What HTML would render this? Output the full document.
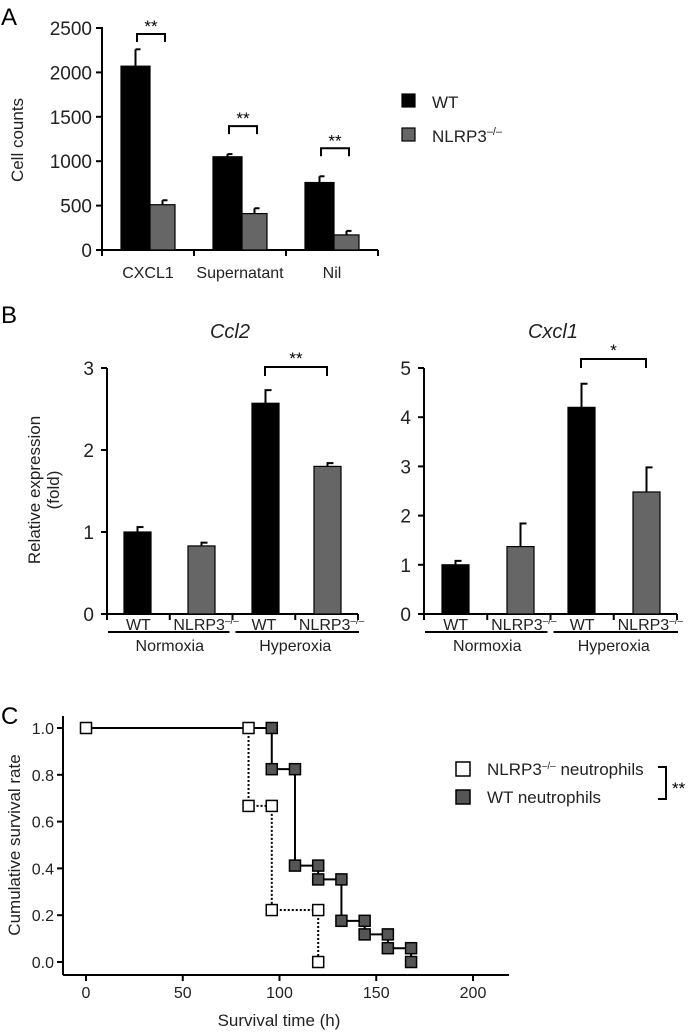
<!DOCTYPE html>
<html><head><meta charset="utf-8"><style>
body{margin:0;background:#fff;}
svg{display:block;font-family:"Liberation Sans",Arial,sans-serif;}
</style></head><body>
<svg id="s" width="693" height="1032" viewBox="0 0 693 1032">
<g id="A"></g>
<g id="B1"></g>
<g id="B2"></g>
<g id="C"></g>
</svg>
<script>
// Panel A data
const aCats=["CXCL1","Supernatant","Nil"];
const aWT=[2070,1050,760];
const aWTerr=[190,30,70];
const aKO=[510,410,170];
const aKOerr=[50,60,45];
const aTicks=[0,500,1000,1500,2000,2500];
// Panel B data
const bGroups=["Normoxia","Hyperoxia"];
const ccl2Vals=[1.0,0.83,2.57,1.80];
const ccl2Err=[0.06,0.04,0.16,0.04];
const ccl2Ticks=[0,1,2,3];
const cxcl1Vals=[1.0,1.37,4.2,2.48];
const cxcl1Err=[0.08,0.47,0.48,0.5];
const cxcl1Ticks=[0,1,2,3,4,5];
// Panel C data
const koT=[0,84,84,96,96,120,120];
const koS=[1,1,0.667,0.667,0.222,0.222,0];
const wtT=[96,96,108,108,120,120,132,132,144,144,156,156,168,168];
const wtS=[1,0.824,0.824,0.412,0.412,0.353,0.353,0.176,0.176,0.118,0.118,0.059,0.059,0];
const cXTicks=[0,50,100,150,200];
const cYTicks=[0,0.2,0.4,0.6,0.8,1.0];

const NS="http://www.w3.org/2000/svg";
function mk(p,tag,at,txt){const e=document.createElementNS(NS,tag);for(const k in at)e.setAttribute(k,at[k]);if(txt!==undefined)e.textContent=txt;p.appendChild(e);return e;}
const S={stroke:"#000","stroke-width":2};

// ---------- Panel A ----------
(function(){
 const g=document.getElementById('A');
 const x0=102,x1=378,y0=250,yT=28,max=2500;
 const ys=v=>y0-(v/max)*(y0-yT);
 let t=mk(g,'text',{x:1,y:25,"font-size":24},'A');
 
 mk(g,'line',Object.assign({x1:x0,y1:yT-1,x2:x0,y2:y0},S));
 mk(g,'line',Object.assign({x1:x0-5,y1:y0,x2:x1,y2:y0},S));
 aTicks.forEach(v=>{mk(g,'line',Object.assign({x1:x0-6,y1:ys(v),x2:x0,y2:ys(v)},S));
  const l=mk(g,'text',{x:x0-10,y:ys(v)+7,"font-size":19,"text-anchor":"end",fill:"#222"},v);
  });
 const step=(x1-x0)/aCats.length;
 for(let i=0;i<=aCats.length;i++)mk(g,'line',Object.assign({x1:x0+i*step,y1:y0,x2:x0+i*step,y2:y0+6},S));
 const yl=mk(g,'text',{x:0,y:0,"font-size":17,"text-anchor":"middle",transform:"translate(23,140) rotate(-90)",fill:"#222"},'Cell counts');
 
 aCats.forEach((c,i)=>{
  const bx=x0+i*step+19;
  [[aWT,aWTerr,"#000",0,29],[aKO,aKOerr,"#666",29,25]].forEach(([vals,err,col,off,w])=>{
   const v=vals[i],e=err[i];
   mk(g,'line',Object.assign({x1:bx+off+w/2,y1:ys(v),x2:bx+off+w/2,y2:ys(v+e)},S));
   mk(g,'line',Object.assign({x1:bx+off+w/2,y1:ys(v+e),x2:bx+off+w/2+5,y2:ys(v+e)},S));
   const r=mk(g,'rect',{x:bx+off,y:ys(v),width:w,height:y0-ys(v),fill:col,stroke:"#000","stroke-width":1.2});
   
  });
  const lb=mk(g,'text',{x:bx+27,y:278,"font-size":16,"text-anchor":"middle",fill:"#222"},c);
  
  const top=Math.max(aWT[i]+aWTerr[i],aKO[i]+aKOerr[i]);
  const by=i===0?yT+6:ys(top)-28;
  mk(g,'path',{d:`M${bx+16} ${by+8}V${by}H${bx+44}V${by+8}`,fill:"none",stroke:"#000","stroke-width":2});
  const st=mk(g,'text',{x:bx+30,y:by-2,"font-size":17,"text-anchor":"middle"},'**');
  
 });
 const lg=[["WT","#000",101],["NLRP3\u2013/\u2013","#666",135]];
 lg.forEach(([n,c,y],i)=>{const gg=mk(g,'g',{});
  mk(gg,'rect',{x:402,y:y-7,width:13,height:13,fill:c,stroke:"#000","stroke-width":1.2});
  const tx=mk(gg,'text',{x:432,y:y+7,"font-size":17,fill:"#222"},i?'NLRP3':'WT');
  if(i)mk(tx,'tspan',{"font-size":11,dy:-7},'\u2013/\u2013');});
})();

// ---------- Panel B ----------
function panelB(id,title,vals,err,ticks,max,x0,x1,bars,brk,star,titleX){
 const g=document.getElementById(id);
 const y0=614,yT=368;
 const ys=v=>y0-(v/max)*(y0-yT);
 mk(g,'line',Object.assign({x1:x0,y1:yT,x2:x0,y2:y0},S));
 mk(g,'line',Object.assign({x1:x0-5,y1:y0,x2:x1,y2:y0},S));
 ticks.forEach(v=>{mk(g,'line',Object.assign({x1:x0-6,y1:ys(v),x2:x0,y2:ys(v)},S));
  const l=mk(g,'text',{x:x0-13,y:ys(v)+7,"font-size":19,"text-anchor":"end",fill:"#222"},v);
  });
 const step=(x1-x0)/4;
 for(let i=0;i<=4;i++)mk(g,'line',Object.assign({x1:x0+i*step,y1:y0,x2:x0+i*step,y2:y0+6},S));
 const tt=mk(g,'text',{x:titleX,y:338,"font-size":20,"font-style":"italic","text-anchor":"middle",fill:"#222"},title);
 
 vals.forEach((v,i)=>{
  const bx=x0+bars[i],w=27,e=err[i],cx=bx+w/2;
  mk(g,'line',Object.assign({x1:cx,y1:ys(v),x2:cx,y2:ys(v+e)},S));
  mk(g,'line',Object.assign({x1:cx-1,y1:ys(v+e),x2:cx+6,y2:ys(v+e)},S));
  const r=mk(g,'rect',{x:bx,y:ys(v),width:w,height:y0-ys(v),fill:i%2?"#666":"#000",stroke:"#000","stroke-width":1.2});
  
  const lx=x0+step*i+step/2;
  const lb=mk(g,'text',{x:lx+(i%2?5:0),y:630,"font-size":16,"text-anchor":"middle",fill:"#222"},i%2?'NLRP3':'WT');
  if(i%2)mk(lb,'tspan',{"font-size":10,dy:-6},'\u2013/\u2013');
  
 });
 bGroups.forEach((n,k)=>{
  mk(g,'line',{x1:x0+k*2*step+(k?3:1),y1:632,x2:x0+(k+1)*2*step-(k?-1:3),y2:632,stroke:"#000","stroke-width":2});
  const gl=mk(g,'text',{x:x0+k*2*step+step,y:651,"font-size":16,"text-anchor":"middle",fill:"#222"},n);
  
 });
 const a=x0+bars[2]+13,b=x0+bars[3]+13,by=brk;
 mk(g,'path',{d:`M${a} ${by+9}V${by}H${b}V${by+9}`,fill:"none",stroke:"#000","stroke-width":2});
 const st=mk(g,'text',{x:(a+b)/2,y:by-3,"font-size":17,"text-anchor":"middle"},star);
 
}
panelB('B1','Ccl2',ccl2Vals,ccl2Err,ccl2Ticks,3,107,358,[17,81,145,207],367,'**',230);
panelB('B2','Cxcl1',cxcl1Vals,cxcl1Err,cxcl1Ticks,5,424,677,[18,83,144,209],359,'*',553);
(function(){const g=document.getElementById('B1');
 let t=mk(g,'text',{x:1,y:323,"font-size":24},'B');
 const yl=mk(g,'text',{"font-size":17,"text-anchor":"middle",fill:"#222",transform:"translate(40,490) rotate(-90)"},'Relative expression');
 
 mk(g,'text',{"font-size":17,"text-anchor":"middle",fill:"#222",transform:"translate(59,490) rotate(-90)"},'(fold)');
})();

// ---------- Panel C ----------
(function(){
 const g=document.getElementById('C');
 const x0=63,x1=509,y0=975,xs=t=>86+t*(473-86)/200,ys=s=>962-s*(962-728);
 let t=mk(g,'text',{x:1,y:724,"font-size":24},'C');
 mk(g,'line',Object.assign({x1:x0,y1:716,x2:x0,y2:y0},S));
 mk(g,'line',Object.assign({x1:x0,y1:y0,x2:x1,y2:y0},S));
 cYTicks.forEach(v=>{mk(g,'line',Object.assign({x1:x0-6,y1:ys(v),x2:x0,y2:ys(v)},S));
  const l=mk(g,'text',{x:x0-9,y:ys(v)+6,"font-size":16,"text-anchor":"end",fill:"#222"},v.toFixed(1));
  });
 cXTicks.forEach(v=>{mk(g,'line',Object.assign({x1:xs(v),y1:y0,x2:xs(v),y2:y0+6},S));
  const l=mk(g,'text',{x:xs(v),y:998,"font-size":16,"text-anchor":"middle",fill:"#222"},v);
  });
 const xl=mk(g,'text',{x:279,y:1026,"font-size":17,"text-anchor":"middle",fill:"#222"},'Survival time (h)');
 
 const yl=mk(g,'text',{"font-size":17,"text-anchor":"middle",fill:"#222",transform:"translate(20,845) rotate(-90)"},'Cumulative survival rate');
 
 let d=`M${xs(0)} ${ys(1)}`;wtT.forEach((tt,i)=>d+=`L${xs(tt)} ${ys(wtS[i])}`);
 const wl=mk(g,'path',{d,fill:"none",stroke:"#000","stroke-width":2});
 
 let d2='';koT.forEach((tt,i)=>{if(i>0)d2+=`M${xs(koT[i-1])} ${ys(koS[i-1])}L${xs(tt)} ${ys(koS[i])}`;});
 const kl=mk(g,'path',{d:d2,fill:"none",stroke:"#000","stroke-width":2,"stroke-dasharray":"2,2"});
 
 mk(g,'line',{x1:xs(0),y1:ys(1),x2:xs(84),y2:ys(1),stroke:"#000","stroke-width":2});
 wtT.forEach((tt,i)=>{const r=mk(g,'rect',{x:xs(tt)-5.5,y:ys(wtS[i])-5.5,width:11,height:11,fill:"#555",stroke:"#000","stroke-width":1.5});
  });
 koT.forEach((tt,i)=>{const r=mk(g,'rect',{x:xs(tt)-5.5,y:ys(koS[i])-5.5,width:11,height:11,fill:"#fff",stroke:"#000","stroke-width":1.5});
  });
 [["#fff",769,'NLRP3'],["#555",797,'WT neutrophils']].forEach(([c,y,a],i)=>{
  const gg=mk(g,'g',{});
  mk(gg,'rect',{x:456,y:y-7,width:14,height:14,fill:c,stroke:"#000","stroke-width":1.5});
  const tx=mk(gg,'text',{x:487,y:y+6,"font-size":17,fill:"#222"},a);
  if(!i){mk(tx,'tspan',{"font-size":10,dy:-6},'\u2013/\u2013');mk(tx,'tspan',{dy:6},'  neutrophils');}
 });
 mk(g,'path',{d:"M658 767H666V799H658",fill:"none",stroke:"#000","stroke-width":2});
 const st=mk(g,'text',{x:672,y:794,"font-size":17},'**');
 
})();
</script>
</body></html>
